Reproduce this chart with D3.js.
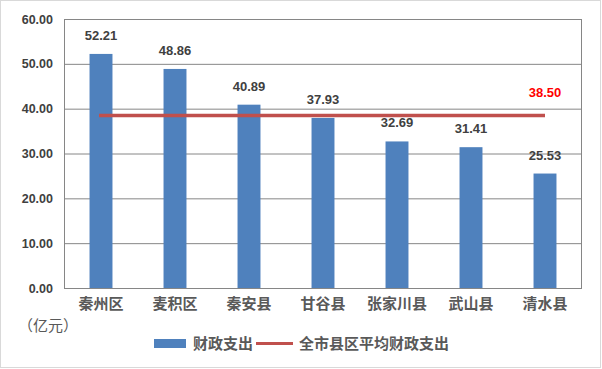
<!DOCTYPE html>
<html><head><meta charset="utf-8">
<script src="https://cdn.jsdelivr.net/npm/d3@7"></script>
<style>
body{margin:0;background:#fff;}
svg{display:block;}
text{font-family:"Liberation Sans","Noto Sans CJK SC",sans-serif;}
</style></head>
<body>
<svg id="c" width="602" height="369"></svg>
<script>
const categories = ["秦州区","麦积区","秦安县","甘谷县","张家川县","武山县","清水县"];
const spending = [52.21,48.86,40.89,37.93,32.69,31.41,25.53];
const averageValue = 38.50;
const yTicks = [0,10,20,30,40,50,60];
const seriesNames = ["财政支出","全市县区平均财政支出"];
const unitLabel = "（亿元）";

const svg = d3.select("#c");
svg.append("rect").attr("x",0.5).attr("y",0.5).attr("width",600).attr("height",367)
  .attr("fill","#fff").attr("stroke","#d9d9d9");

const L=64, R=582, T=19, B=288;
const x = d3.scaleBand().domain(categories).range([L,R]).paddingInner(0.69).paddingOuter(0.345);
const y = d3.scaleLinear().domain([0,60]).range([B,T]);

// gridlines
svg.append("g").selectAll("line").data(yTicks).join("line")
  .attr("x1",L).attr("x2",R).attr("y1",d=>y(d)+0.5).attr("y2",d=>y(d)+0.5)
  .attr("stroke","#868686").attr("stroke-width",1);

// y axis
const ya = svg.append("g").attr("transform",`translate(${L},0)`)
  .call(d3.axisLeft(y).tickValues(yTicks).tickFormat(d3.format(".2f")).tickSize(0).tickPadding(11));
ya.select(".domain").remove();
ya.selectAll("text").attr("font-size",12.5).attr("font-weight","bold").attr("fill","#404040")
  .attr("font-family","Liberation Sans, sans-serif");

// plot border
svg.append("rect").attr("x",L+0.5).attr("y",T+0.5).attr("width",R-L-1).attr("height",B-T)
  .attr("fill","none").attr("stroke","#868686");

// bars
svg.append("g").selectAll("rect").data(spending).join("rect")
  .attr("x",(d,i)=>x(categories[i])).attr("width",x.bandwidth())
  .attr("y",d=>y(d)).attr("height",d=>B-y(d)).attr("fill","#4F81BD");

// bar labels
svg.append("g").selectAll("text").data(spending).join("text")
  .attr("x",(d,i)=>x(categories[i])+x.bandwidth()/2).attr("y",d=>y(d)-14)
  .attr("text-anchor","middle").attr("font-size",13).attr("font-weight","bold").attr("fill","#404040")
  .text(d=>d.toFixed(2));

// average line
const cx = c => x(c)+x.bandwidth()/2;
svg.append("line").attr("x1",cx(categories[0])-2).attr("x2",cx(categories[categories.length-1]))
  .attr("y1",y(averageValue)).attr("y2",y(averageValue))
  .attr("stroke","#C0504D").attr("stroke-width",3.5);
svg.append("text").attr("x",cx(categories[categories.length-1])).attr("y",y(averageValue)-18)
  .attr("text-anchor","middle").attr("font-size",13).attr("font-weight","bold").attr("fill","#FF0000")
  .text(averageValue.toFixed(2));

// x axis labels
svg.append("g").selectAll("text").data(categories).join("text")
  .attr("x",d=>cx(d)).attr("y",309).attr("text-anchor","middle")
  .attr("font-size",15).attr("font-weight","bold").attr("fill","#595959")
  .attr("font-family","Noto Sans CJK SC, sans-serif").text(d=>d);

// unit
svg.append("text").attr("x",18).attr("y",331).attr("font-size",15).attr("fill","#595959")
  .attr("font-family","Noto Sans CJK SC, sans-serif").text(unitLabel);

// legend
svg.append("rect").attr("x",154).attr("y",339).attr("width",32).attr("height",9).attr("fill","#4F81BD");
svg.append("text").attr("x",193).attr("y",349).attr("font-size",15).attr("font-weight","bold").attr("fill","#595959")
  .attr("font-family","Noto Sans CJK SC, sans-serif").text(seriesNames[0]);
svg.append("line").attr("x1",256).attr("x2",293).attr("y1",343.5).attr("y2",343.5)
  .attr("stroke","#C0504D").attr("stroke-width",3);
svg.append("text").attr("x",299).attr("y",349).attr("font-size",15).attr("font-weight","bold").attr("fill","#595959")
  .attr("font-family","Noto Sans CJK SC, sans-serif").text(seriesNames[1]);
</script>
</body></html>
